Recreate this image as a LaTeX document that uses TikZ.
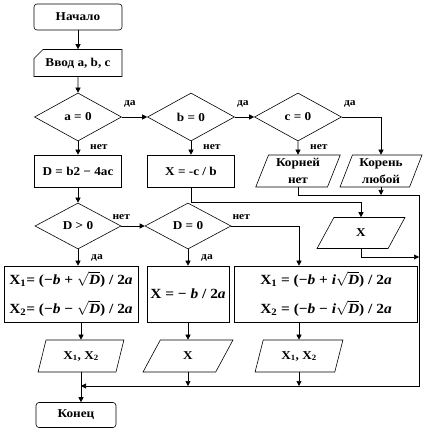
\documentclass[tikz,border=0pt]{standalone}
\usepackage{amsmath}
\usepackage{fontspec}
\setmainfont[FakeStretch=1.1]{Liberation Serif}
\usetikzlibrary{shapes.geometric,shapes.misc,positioning,arrows.meta}
\tikzset{
  base/.style={draw,line width=0.6pt,inner sep=1pt,align=center,
    font=\bfseries\fontsize{12}{17}\selectfont},
  termbox/.style={base,rounded corners=3pt,minimum width=88pt,minimum height=26pt},
  inbox/.style={base,chamfered rectangle,chamfered rectangle corners=north west,
    chamfered rectangle xsep=6pt,minimum width=88pt,minimum height=27pt},
  procbox/.style={base,rectangle,minimum width=87pt,minimum height=32pt},
  calcbox/.style={base,rectangle,minimum height=56pt,
    font=\bfseries\fontsize{14}{29}\selectfont},
  iobox/.style={base,trapezium,trapezium left angle=70,trapezium right angle=110,
    trapezium stretches=true,minimum width=86pt,minimum height=32pt},
  decision/.style={base,diamond,minimum width=87pt,minimum height=48pt},
  lbl/.style={inner sep=1pt,font=\bfseries\fontsize{10.5}{11}\selectfont},
  flow/.style={draw,line width=0.6pt,-{Triangle[length=5pt,width=5pt]}},
}
\newcommand\rootexpr[2]{X\textsubscript{#1}= (−\textit{b} #2 $\sqrt{\text{\textit{D}}}$) / 2\textit{a}}
\newcommand\cplxexpr[2]{X\textsubscript{#1} = (−\textit{b} #2 \textit{i}$\sqrt{\text{\textit{D}}}$) / 2\textit{a}}

\begin{document}
\begin{tikzpicture}[x=1pt,y=-1pt]
\useasboundingbox (0,0) rectangle (431,430);

% top column
\node[termbox] (start) at (78,17) {Начало};
\node[inbox] (input) at (78,63) {Ввод a, b, c};

% first row of tests
\node[decision] (qa) at (78,117) {a = 0};
\node[decision] (qb) at (191,117) {b = 0};
\node[decision] (qc) at (298,117) {c = 0};

\node[procbox] (disc) at (78,171) {D = b2 − 4ac};
\node[procbox] (xcb) at (191,171) {X = -c / b};
\node[iobox,minimum width=85pt] (noroot) at (298,171) {Корней\\нет};
\node[iobox,minimum width=82pt] (anyroot) at (381,171) {Корень\\любой};

% second row of tests
\node[decision,minimum width=86pt,minimum height=46pt] (qd) at (78,226) {D > 0};
\node[decision,minimum width=86pt,minimum height=46pt] (qz) at (188,226) {D = 0};
\node[iobox,minimum width=88pt,minimum height=31pt] (xone) at (361,233) {X};

\node[calcbox,minimum width=134pt] (xreal) at (71,294) {\rootexpr{1}{+}\\\rootexpr{2}{−}};
\node[calcbox,minimum width=82pt] (xsingle) at (188,294) {X = − \textit{b} / 2\textit{a}};
\node[calcbox,minimum width=183pt] (xcplx) at (326,294) {\cplxexpr{1}{+}\\\cplxexpr{2}{−}};

% output
\node[iobox] (outa) at (81,356) {X\textsubscript{1}, X\textsubscript{2}};
\node[iobox,minimum width=90pt] (outb) at (188,356) {X};
\node[iobox,minimum width=88pt] (outc) at (299,356) {X\textsubscript{1}, X\textsubscript{2}};
\node[termbox,minimum width=80pt,minimum height=25pt] (stop) at (76,415) {Конец};

\coordinate (jtop) at (419,195);
\coordinate (jx) at (419,257);
\coordinate (jbot) at (419,386);
\coordinate (busend) at (81,386);
\coordinate (kz) at (299,226);

\draw[flow] (start) -- (input);
\draw[flow] (input) -- (qa);
\draw[flow] (qa.east) -- (qb.west);
\draw[flow] (qb.east) -- (qc.west);
\draw[flow] (qc.east) -| (anyroot.north);
\draw[flow] (qa.south) -- (disc.north);
\draw[flow] (qb.south) -- (xcb.north);
\draw[flow] (qc.south) -- (noroot.north);
\draw[flow] (disc.south) -- (qd.north);
\draw[flow] (xcb.south) -- ++(0,15) -| (xone.north);
\draw[flow] (noroot.south) |- (jtop) -- (jbot) -- (busend);
\draw[flow] (anyroot.south) -- (anyroot.south |- jtop);
\draw[flow] (xone.south) |- (jx);
\draw[flow] (qd.east) -- (qz.west);
\draw[flow] (qd.south) -- (qd.south |- xreal.north);
\draw[flow] (qz.south) -- (qz.south |- xsingle.north);
\draw[flow] (qz.east) -- (kz) -- (kz |- xcplx.north);
\draw[flow] (outa.north |- xreal.south) -- (outa.north);
\draw[flow] (outb.north |- xsingle.south) -- (outb.north);
\draw[flow] (outc.north |- xcplx.south) -- (outc.north);
\draw[flow] (outb.south) -- (outb.south |- busend);
\draw[flow] (outc.south) -- (outc.south |- busend);
\draw[flow] (outa.south) -- (outa.south |- stop.north);

% branch labels
\node[lbl,above right=8pt and 1pt of qa.east] (yesa) {да};
\node[lbl,above right=8pt and 1pt of qb.east] (yesb) {да};
\node[lbl,above right=8pt and 1pt of qc.east] (yesc) {да};
\node[lbl,below right=2pt and 11pt of qa.south] (noa) {нет};
\node[lbl,below right=2pt and 11pt of qb.south] (nob) {нет};
\node[lbl,below right=2pt and 11pt of qc.south] (noc) {нет};
\node[lbl,above=5pt of qd.east] (nod) {нет};
\node[lbl,above right=5pt and 0pt of qz.east] (noz) {нет};
\node[lbl,below right=4pt and 12pt of qd.south] (yesd) {да};
\node[lbl,below right=4pt and 12pt of qz.south] (yesz) {да};

\end{tikzpicture}
\end{document}
